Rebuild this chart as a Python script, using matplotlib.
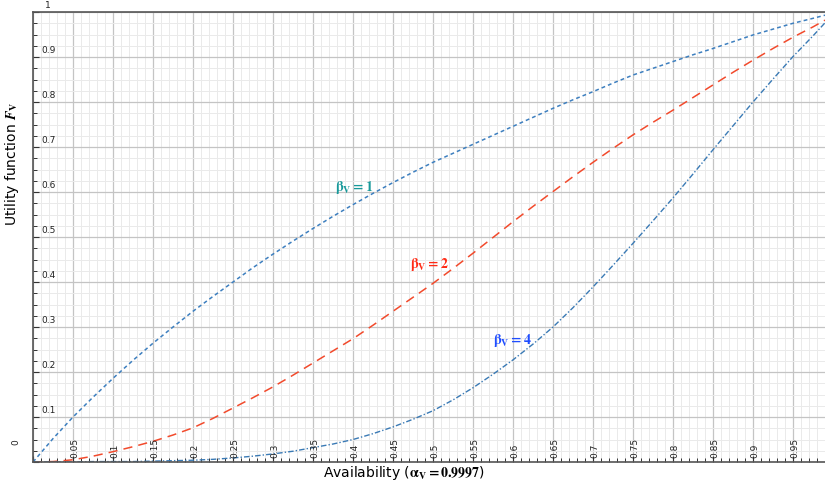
import numpy as np
import matplotlib
matplotlib.use('Agg')
import matplotlib.pyplot as plt
from matplotlib.ticker import MultipleLocator

# availability values (x) and utility function F_V for each beta_V
avail = [0.0, 0.025, 0.05, 0.075, 0.1, 0.125, 0.15, 0.175, 0.2, 0.225, 0.25,
         0.275, 0.3, 0.325, 0.35, 0.375, 0.4, 0.425, 0.45, 0.475, 0.5,
         0.525, 0.55, 0.575, 0.6, 0.625, 0.65, 0.675, 0.7, 0.725, 0.75,
         0.775, 0.8, 0.825, 0.85, 0.875, 0.9, 0.925, 0.95, 0.975, 0.99]
f_beta1 = [0.0, 0.052, 0.100, 0.144, 0.186, 0.226, 0.264, 0.300, 0.335, 0.368, 0.400,
           0.432, 0.462, 0.491, 0.519, 0.546, 0.572, 0.597, 0.621, 0.644, 0.666,
           0.686, 0.706, 0.726, 0.746, 0.766, 0.786, 0.805, 0.823, 0.842, 0.860,
           0.875, 0.890, 0.905, 0.919, 0.934, 0.949, 0.962, 0.975, 0.986, 0.993]
f_beta2 = [0.0, 0.001, 0.005, 0.013, 0.023, 0.034, 0.046, 0.060, 0.076, 0.097, 0.120,
           0.143, 0.167, 0.193, 0.220, 0.247, 0.274, 0.304, 0.335, 0.366, 0.397,
           0.430, 0.464, 0.499, 0.534, 0.568, 0.601, 0.634, 0.666, 0.697, 0.727,
           0.755, 0.782, 0.810, 0.838, 0.866, 0.893, 0.919, 0.944, 0.967, 0.982]
f_beta4 = [0.0, 0.0, 0.0, 0.001, 0.001, 0.001, 0.002, 0.003, 0.004, 0.006, 0.009,
           0.013, 0.018, 0.024, 0.032, 0.040, 0.050, 0.063, 0.078, 0.095, 0.114,
           0.138, 0.165, 0.195, 0.227, 0.262, 0.300, 0.343, 0.389, 0.437, 0.486,
           0.536, 0.587, 0.640, 0.694, 0.747, 0.800, 0.851, 0.901, 0.947, 0.976]

x_major = [0.05, 0.1, 0.15, 0.2, 0.25, 0.3, 0.35, 0.4, 0.45, 0.5,
           0.55, 0.6, 0.65, 0.7, 0.75, 0.8, 0.85, 0.9, 0.95]
x_labels = ['0.05', '0.1', '0.15', '0.2', '0.25', '0.3', '0.35', '0.4', '0.45', '0.5',
            '0.55', '0.6', '0.65', '0.7', '0.75', '0.8', '0.85', '0.9', '0.95']
y_major = [0.1, 0.2, 0.3, 0.4, 0.5, 0.6, 0.7, 0.8, 0.9]
y_labels = ['0.1', '0.2', '0.3', '0.4', '0.5', '0.6', '0.7', '0.8', '0.9']

plt.rcParams['mathtext.fontset'] = 'stix'

fig = plt.figure(figsize=(8.25, 4.87), dpi=100)
ax = fig.add_axes([0.04, 0.0513, 0.96, 0.924])

ax.set_xlim(0, 0.99)
ax.set_ylim(0, 1)

# grid
ax.xaxis.set_major_locator(MultipleLocator(0.05))
ax.xaxis.set_minor_locator(MultipleLocator(0.01))
ax.yaxis.set_major_locator(MultipleLocator(0.1))
ax.yaxis.set_minor_locator(MultipleLocator(0.025))
ax.grid(which='major', color='#c4c4c4', linewidth=0.9)
ax.grid(which='minor', color='#eaeaea', linewidth=0.7)
ax.set_axisbelow(True)
ax.tick_params(which='both', direction='in', labelbottom=False, labelleft=False,
               color='#333333')
ax.tick_params(which='major', length=4, width=0.8)
ax.tick_params(which='minor', length=3, width=0.7)

for s in ['left', 'bottom', 'top']:
    ax.spines[s].set_color('#555555')
    ax.spines[s].set_linewidth(1.2)
ax.spines['right'].set_visible(False)

# curves
ax.plot(avail, f_beta1, color='#3d7fbf', lw=1.1, linestyle=(0, (2.5, 2)))
ax.plot(avail, f_beta2, color='#f24a2c', lw=1.1, linestyle=(0, (6, 4)))
ax.plot(avail, f_beta4, color='#3a7ab5', lw=1.0, linestyle=(0, (4, 1.5, 1, 1.5)))

# tick labels drawn inside the axes
for xv, lab in zip(x_major, x_labels):
    ax.text(xv + 0.002, 0.008, lab, rotation=90, ha='center', va='bottom',
            fontsize=6.5, color='#222222')
for yv, lab in zip(y_major, y_labels):
    ax.text(0.011, yv + 0.004, lab, ha='left', va='bottom', fontsize=6.5, color='#222222')
ax.text(0.019, 1.004, '1', ha='center', va='bottom', fontsize=6.5, color='#222222')
ax.text(-0.022, 0.045, '0', rotation=90, ha='center', va='center', fontsize=6.5,
        color='#222222', clip_on=False)

# curve labels
ax.text(0.401, 0.611, r'$\mathbf{\beta_V = 1}$', color='#18999a', fontsize=10,
        ha='center', va='center')
ax.text(0.496, 0.438, r'$\mathbf{\beta_V = 2}$', color='#ff2a14', fontsize=10,
        ha='center', va='center')
ax.text(0.599, 0.269, r'$\mathbf{\beta_V = 4}$', color='#1f4dff', fontsize=10,
        ha='center', va='center')

# axis titles
fig.text(0.49, 0.028, r'Availability ($\mathbf{\alpha_V = 0.9997}$)', ha='center',
         va='center', fontsize=10)
fig.text(0.015, 0.663, r'Utility function $\mathbfit{F}_{\mathbf{V}}$', rotation=90,
         ha='center', va='center', fontsize=10)

fig.savefig('out.png', dpi=100)
